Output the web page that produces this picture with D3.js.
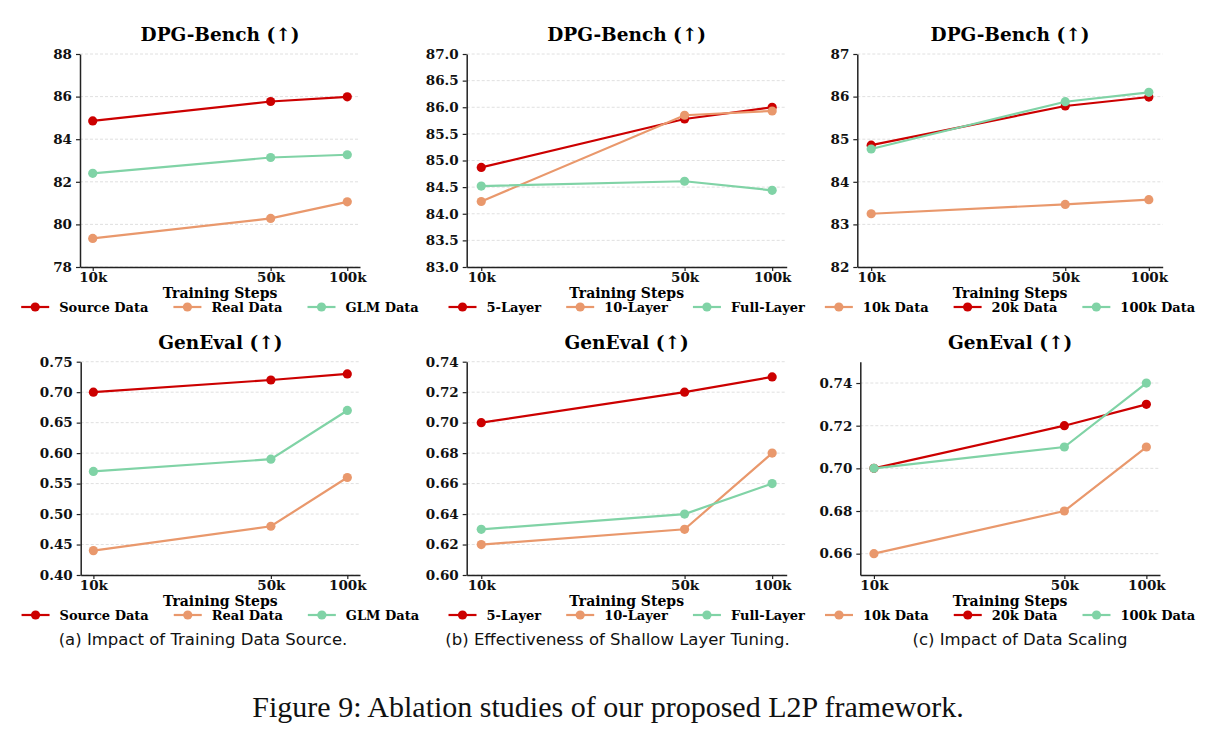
<!DOCTYPE html>
<html>
<head>
<meta charset="utf-8">
<script src="https://cdn.jsdelivr.net/npm/d3@7"></script>
<style>
  body { margin: 0; background: #fff; }
  svg { display: block; }
  .tick text { font-family: "DejaVu Serif", serif; font-weight: bold; font-size: 13.5px; fill: #111; }
  .domain, .tick line { stroke: #222; }
</style>
</head>
<body>
<svg id="fig" width="1217" height="740"></svg>
<script>
// training steps (thousands) and their labels
const steps = [10, 50, 100];
const stepLabels = ["10k", "50k", "100k"];

// (a) training data source
const dpgSource = [84.86, 85.77, 85.99];
const dpgReal = [79.34, 80.28, 81.06];
const dpgGlm = [82.40, 83.14, 83.27];
const genSource = [0.70, 0.72, 0.73];
const genReal = [0.44, 0.48, 0.56];
const genGlm = [0.57, 0.59, 0.67];

// (b) shallow layer tuning
const dpg5Layer = [84.87, 85.78, 86.00];
const dpg10Layer = [84.23, 85.85, 85.93];
const dpgFullLayer = [84.52, 84.61, 84.44];
const gen5Layer = [0.70, 0.72, 0.73];
const gen10Layer = [0.62, 0.63, 0.68];
const genFullLayer = [0.63, 0.64, 0.66];

// (c) data scaling
const dpg10kData = [83.25, 83.47, 83.58];
const dpg20kData = [84.86, 85.78, 85.99];
const dpg100kData = [84.77, 85.88, 86.10];
const gen10kData = [0.66, 0.68, 0.71];
const gen20kData = [0.70, 0.72, 0.73];
const gen100kData = [0.70, 0.71, 0.74];

// y ticks
const ticksA1 = [78, 80, 82, 84, 86, 88];
const ticksB1 = [83.0, 83.5, 84.0, 84.5, 85.0, 85.5, 86.0, 86.5, 87.0];
const ticksC1 = [82, 83, 84, 85, 86, 87];
const ticksA2 = [0.40, 0.45, 0.50, 0.55, 0.60, 0.65, 0.70, 0.75];
const ticksB2 = [0.60, 0.62, 0.64, 0.66, 0.68, 0.70, 0.72, 0.74];
const ticksC2 = [0.66, 0.68, 0.70, 0.72, 0.74];

const RED = "#cc0000", ORANGE = "#e9986c", GREEN = "#80d3a6";

const panels = [
    {box: [80, 54, 360, 267], title: "DPG-Bench (↑)", ylim: [78, 88], ticks: ticksA1, fmt: ".0f",
     series: [["Source Data", dpgSource, RED], ["Real Data", dpgReal, ORANGE], ["GLM Data", dpgGlm, GREEN]]},
    {box: [466.7, 54, 786.7, 267], title: "DPG-Bench (↑)", ylim: [83, 87], ticks: ticksB1, fmt: ".1f",
     series: [["5-Layer", dpg5Layer, RED], ["10-Layer", dpg10Layer, ORANGE], ["Full-Layer", dpgFullLayer, GREEN]]},
    {box: [857.3, 54, 1162.7, 267], title: "DPG-Bench (↑)", ylim: [82, 87], ticks: ticksC1, fmt: ".0f",
     series: [["10k Data", dpg10kData, ORANGE], ["20k Data", dpg20kData, RED], ["100k Data", dpg100kData, GREEN]]},
    {box: [80.7, 361.7, 360, 575], title: "GenEval (↑)", ylim: [0.40, 0.75], ticks: ticksA2, fmt: ".2f",
     series: [["Source Data", genSource, RED], ["Real Data", genReal, ORANGE], ["GLM Data", genGlm, GREEN]]},
    {box: [466.7, 361.7, 786.7, 575], title: "GenEval (↑)", ylim: [0.60, 0.74], ticks: ticksB2, fmt: ".2f",
     series: [["5-Layer", gen5Layer, RED], ["10-Layer", gen10Layer, ORANGE], ["Full-Layer", genFullLayer, GREEN]]},
    {box: [860.3, 361.7, 1160, 575], title: "GenEval (↑)", ylim: [0.65, 0.75], ticks: ticksC2, fmt: ".2f",
     series: [["10k Data", gen10kData, ORANGE], ["20k Data", gen20kData, RED], ["100k Data", gen100kData, GREEN]]}
];

const subCaptions = [
    {text: "(a) Impact of Training Data Source.", x: 203},
    {text: "(b) Effectiveness of Shallow Layer Tuning.", x: 617.5},
    {text: "(c) Impact of Data Scaling", x: 1020}
];

let svg = d3.select("#fig");
svg.append("rect").attr("width", 1217).attr("height", 740).attr("fill", "#fff");

panels.forEach(function(p) {
    let [x0, y0, x1, y1] = p.box;
    let g = svg.append("g");

    // log x with matplotlib style 5% margins
    let lo = Math.log10(steps[0]), hi = Math.log10(steps[steps.length - 1]);
    let m = (hi - lo) * 0.05;
    let x = d3.scaleLog().domain([Math.pow(10, lo - m), Math.pow(10, hi + m)]).range([x0, x1]);
    let y = d3.scaleLinear().domain(p.ylim).range([y1, y0]);

    // grid
    g.selectAll("line.grid")
        .data(p.ticks)
        .enter()
        .append("line")
        .attr("class", "grid")
        .attr("x1", x0).attr("x2", x1)
        .attr("y1", d => y(d)).attr("y2", d => y(d))
        .style("stroke", "#d8d8d8")
        .style("stroke-width", 0.8)
        .style("stroke-dasharray", "3,2");

    let line = d3.line().x((d, i) => x(steps[i])).y(d => y(d));
    p.series.forEach(function(s) {
        g.append("path")
            .datum(s[1])
            .attr("d", line)
            .attr("fill", "none")
            .attr("stroke", s[2])
            .attr("stroke-width", 2.2);
        g.selectAll(null)
            .data(s[1])
            .enter()
            .append("circle")
            .attr("cx", (d, i) => x(steps[i]))
            .attr("cy", d => y(d))
            .attr("r", 4.6)
            .attr("fill", s[2]);
    });

    let yAxis = d3.axisLeft(y).tickValues(p.ticks).tickFormat(d3.format(p.fmt)).tickSize(4).tickPadding(4).tickSizeOuter(0);
    let xAxis = d3.axisBottom(x).tickValues(steps).tickFormat((d, i) => stepLabels[i]).tickSize(4).tickPadding(4).tickSizeOuter(0);

    let gY = g.append("g").attr("transform", "translate(" + x0 + ",0)").call(yAxis);
    let gX = g.append("g").attr("transform", "translate(0," + y1 + ")").call(xAxis);
    gY.select(".domain").attr("stroke-width", 1.5);
    gX.select(".domain").attr("stroke-width", 1.5);
    gY.selectAll(".tick line").attr("stroke-width", 1.2);
    gX.selectAll(".tick line").attr("stroke-width", 1.2);
    gX.selectAll(".tick text").attr("dy", "0.55em");

    let cx = (x0 + x1) / 2;
    g.append("text")
        .attr("x", cx).attr("y", y0 - 13)
        .attr("text-anchor", "middle")
        .style("font-family", "DejaVu Serif, serif")
        .style("font-weight", "bold")
        .style("font-size", "18.5px")
        .text(p.title);

    g.append("text")
        .attr("x", cx).attr("y", y1 + 30.5)
        .attr("text-anchor", "middle")
        .style("font-family", "DejaVu Serif, serif")
        .style("font-weight", "bold")
        .style("font-size", "14px")
        .text("Training Steps");

    // legend, 3 columns centred under the axes
    let ly = y1 + 40;
    let leg = g.append("g");
    let items = p.series.map(function(s) {
        let it = leg.append("g");
        it.append("line").attr("x1", 0).attr("x2", 28).attr("y1", 0).attr("y2", 0)
            .attr("stroke", s[2]).attr("stroke-width", 2.2);
        it.append("circle").attr("cx", 14).attr("cy", 0).attr("r", 4.6).attr("fill", s[2]);
        let t = it.append("text").attr("x", 38).attr("y", 4.8)
            .style("font-family", "DejaVu Serif, serif")
            .style("font-weight", "bold")
            .style("font-size", "13px")
            .text(s[0]);
        return {g: it, w: 38 + t.node().getComputedTextLength()};
    });
    let total = d3.sum(items, d => d.w) + 25 * (items.length - 1);
    let pos = cx - total / 2;
    items.forEach(function(it) {
        it.g.attr("transform", "translate(" + pos + "," + ly + ")");
        pos += it.w + 25;
    });
});

subCaptions.forEach(function(c) {
    svg.append("text")
        .attr("x", c.x).attr("y", 645)
        .attr("text-anchor", "middle")
        .style("font-family", "'Comic Sans MS', 'DejaVu Sans', sans-serif")
        .style("font-size", "16.5px")
        .style("fill", "#111")
        .text(c.text);
});

svg.append("text")
    .attr("x", 608).attr("y", 717)
    .attr("text-anchor", "middle")
    .style("font-family", "'Liberation Serif', 'Times New Roman', serif")
    .style("font-size", "30px")
    .style("fill", "#111")
    .text("Figure 9: Ablation studies of our proposed L2P framework.");
</script>
</body>
</html>
